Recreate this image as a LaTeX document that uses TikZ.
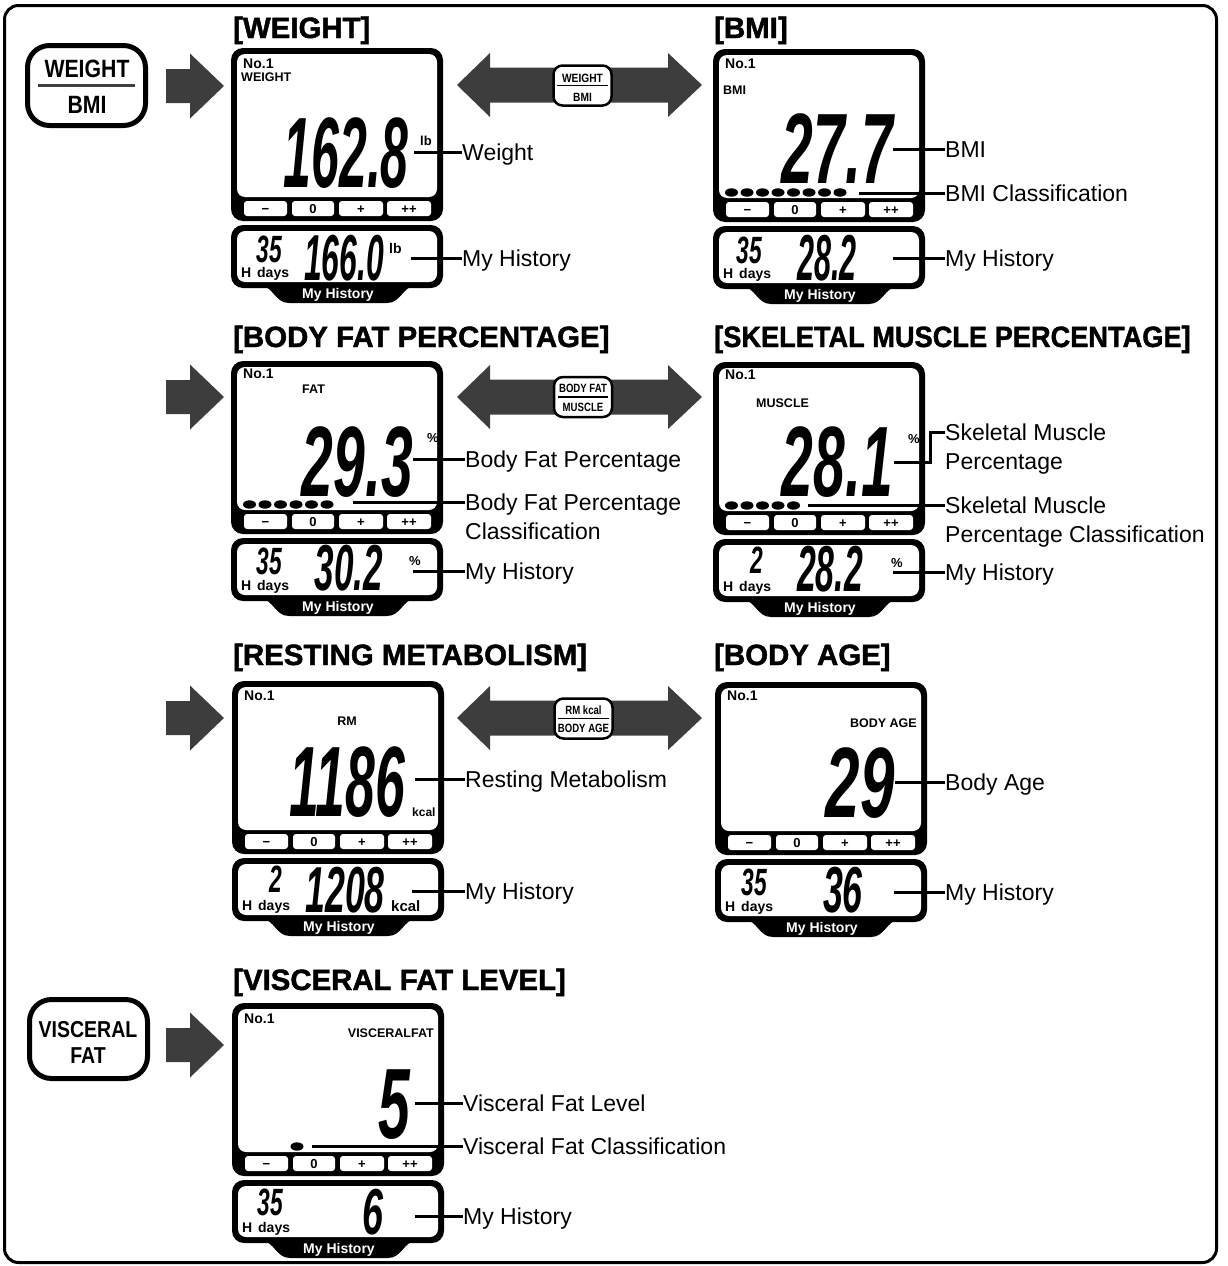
\documentclass[tikz,border=0pt]{standalone}
\usepackage{fontspec}
\usepackage{graphicx}
\setmainfont{Liberation Sans}
\newfontfamily\titlefont{Liberation Sans}[BoldFeatures={FakeBold=1.5}]
\definecolor{agray}{HTML}{3D3D3D}
\newcommand\lcdnum[2][0.52]{\scalebox{#1}[1]{#2}}
\newcommand\lcdframe[1]{%
 \fill[rounded corners=12pt] (0,0) rectangle (212,173);
 \fill[white,rounded corners=8pt] (6,6) rectangle (206,149);
 \foreach \aa/\bb/\lab/\nm in {13/56/−/m, 61/103/0/z, 108/152/+/p, 156/200/++/pp}{
   \fill[white,rounded corners=3pt] (\aa,153) rectangle (\bb,168);
   \node[btxt] (#1-\nm) at ({(\aa+\bb)/2},165) {\lab};}
 \fill[rounded corners=12pt] (0,177) rectangle (212,240);
 \fill[white,rounded corners=8pt] (6,183) rectangle (206,234);
 \fill (30,238) .. controls (42,238) and (44,255) .. (58,255) -- (156,255) .. controls (170,255) and (172,238) .. (184,238) -- cycle;
 \node[tabtxt] (#1-tab) at (107,247) {My History};
 \node[lhd] (#1-hd) at (10,229) {H\ \hspace{2pt}days};
}
\newcommand\clsdots[1]{\foreach \ii in {#1}{\fill ({18.5+(\ii-1)*15.5},143.5) ellipse [x radius=6.5, y radius=4.2];}}
\begin{document}
\begin{tikzpicture}[x=1pt,y=-1pt,
 lbl/.style={font=\fontsize{23}{29}\selectfont, inner sep=0, align=left, anchor=base west},
 lbl2/.style={font=\fontsize{23}{29}\selectfont, inner sep=0, align=left, anchor=north west},
 ttl/.style={font=\titlefont\bfseries\fontsize{29.4}{30}\selectfont, anchor=base west, inner sep=0},
 leader/.style={line width=3pt},
 btxt/.style={font=\bfseries\fontsize{13}{13}\selectfont, inner sep=0, anchor=base},
 tabtxt/.style={font=\bfseries\fontsize{14}{14}\selectfont, text=white, inner sep=0},
 lhd/.style={font=\bfseries\fontsize{14}{14}\selectfont, inner sep=0, anchor=base west},
 lno/.style={font=\bfseries\fontsize{14}{14}\selectfont, inner sep=0, anchor=base west},
 lmode/.style={font=\bfseries\fontsize{12.5}{12.5}\selectfont, inner sep=0, anchor=base west},
 lunit/.style={font=\bfseries\fontsize{13}{13}\selectfont, inner sep=0, anchor=base west},
 dig/.style={font=\bfseries\itshape\fontsize{#1}{#1}\selectfont, inner sep=0, anchor=base east, text depth=0pt},
 midbtn/.style={draw, line width=2.5pt, fill=white, rounded corners=9pt, minimum width=58pt, minimum height=40pt, inner sep=0},
 btnsm/.style={font=\bfseries\fontsize{12}{12}\selectfont, inner sep=0},
 bigbtn/.style={draw, line width=5pt, rounded corners=22pt, minimum width=118pt, minimum height=80pt, inner sep=0},
 bigtxt/.style={font=\bfseries\fontsize{25}{25}\selectfont, inner sep=0},
 pics/rarrow/.style={code={\fill[agray] (0,-17) -- (24,-17) -- (24,-32.5) -- (58,0) -- (24,32.5) -- (24,17) -- (0,17) -- cycle;}},
 pics/darrow/.style={code={\fill[agray] (0,0) -- (33,-32) -- (33,-17.5) -- (211,-17.5) -- (211,-32) -- (245,0) -- (211,32) -- (211,17.5) -- (33,17.5) -- (33,32) -- cycle;}}
]
\useasboundingbox (0,0) rectangle (1227,1266);
\draw[line width=3pt, rounded corners=14pt] (4.5,5.5) rectangle (1216.5,1262.5);

% titles
\node[ttl] (t1) at (233,38) {[WEIGHT]};
\node[ttl] (t2) at (714,38) {[BMI]};
\node[ttl] (t3) at (233,347) {[BODY FAT PERCENTAGE]};
\node[ttl] (t4) at (714,347) {\scalebox{0.925}[1]{[SKELETAL MUSCLE PERCENTAGE]}};
\node[ttl] (t5) at (233,665) {[RESTING METABOLISM]};
\node[ttl] (t6) at (714,665) {[BODY AGE]};
\node[ttl] (t7) at (233,990) {[VISCERAL FAT LEVEL]};

% mode buttons
\node[bigbtn] (wb) at (86.5,85.5) {};
\node[bigtxt] (wb1) at (87,69) {\scalebox{0.85}[1]{WEIGHT}};
\draw[line width=3pt, black!75] ([xshift=13pt]wb.west) -- ([xshift=-13pt]wb.east);
\node[bigtxt] (wb2) at (87,105) {\scalebox{0.85}[1]{BMI}};
\node[bigbtn, minimum height=79pt] (vb) at (88.5,1039) {};
\node[bigtxt, font=\bfseries\fontsize{23}{23}\selectfont] (vb1) at (88,1030) {\scalebox{0.85}[1]{VISCERAL}};
\node[bigtxt, font=\bfseries\fontsize{23}{23}\selectfont] (vb2) at (88,1055.5) {\scalebox{0.85}[1]{FAT}};

% arrows
\pic at (166,86) {rarrow};
\pic at (166,397) {rarrow};
\pic at (166,718) {rarrow};
\pic at (166,1045) {rarrow};
\pic at (457,85) {darrow};
\pic at (457,397) {darrow};
\pic at (457,718) {darrow};

% switch buttons on double arrows
\node[midbtn] (m1) at (582.5,85.5) {};
\node[btnsm] (m1a) at (582.5,78) {\scalebox{0.85}[1]{WEIGHT}};
\node[btnsm] (m1b) at (582.5,97) {\scalebox{0.85}[1]{BMI}};
\draw[line width=1.5pt] ([xshift=5pt]m1.west) -- ([xshift=-5pt]m1.east);
\node[midbtn] (m2) at (583,397) {};
\node[btnsm] (m2a) at (583,388.5) {\scalebox{0.8}[1]{BODY FAT}};
\node[btnsm] (m2b) at (583,407.5) {\scalebox{0.8}[1]{MUSCLE}};
\draw[line width=1.5pt] ([xshift=5pt]m2.west) -- ([xshift=-5pt]m2.east);
\node[midbtn] (m3) at (583.5,718.5) {};
\node[btnsm] (m3a) at (583.5,710) {\scalebox{0.8}[1]{RM kcal}};
\node[btnsm] (m3b) at (583.5,728) {\scalebox{0.8}[1]{BODY AGE}};
\draw[line width=1.5pt] ([xshift=5pt]m3.west) -- ([xshift=-5pt]m3.east);

% WEIGHT panel
\begin{scope}[shift={(231,48)}]
\lcdframe{w}
\node[lno] (w-no) at (12,20) {No.1};
\node[lmode] (w-mode) at (10,33) {WEIGHT};
\node[dig=100] (w-val) at (178,139) {\lcdnum[0.5]{162.8}};
\node[lunit] (w-u) at (189,97) {lb};
\node[dig=38] (w-days) at (51,214) {\lcdnum[0.6]{35}};
\node[dig=65] (w-hist) at (153,232) {\lcdnum[0.49]{166.0}};
\node[lunit, font=\bfseries\fontsize{14}{14}\selectfont] (w-u2) at (158,205) {lb};
\coordinate (w-c1) at (183,104);
\coordinate (w-c3) at (180,210);
\end{scope}

% BMI panel
\begin{scope}[shift={(713,49)}]
\lcdframe{b}
\node[lno] (b-no) at (12,19) {No.1};
\node[lmode] (b-mode) at (10,45) {BMI};
\node[dig=100] (b-val) at (180,134) {\lcdnum[0.57]{27.7}};
\clsdots{1,...,8}
\node[dig=38] (b-days) at (49,214) {\lcdnum[0.6]{35}};
\node[dig=65] (b-hist) at (144,231) {\lcdnum[0.47]{28.2}};
\coordinate (b-c1) at (180,100);
\coordinate (b-c2) at (146,144);
\coordinate (b-c3) at (180,209);
\end{scope}

% BODY FAT panel
\begin{scope}[shift={(231,361)}]
\lcdframe{f}
\node[lno] (f-no) at (12,17) {No.1};
\node[lmode] (f-mode) at (71,32) {FAT};
\node[dig=100] (f-val) at (182,135) {\lcdnum[0.57]{29.3}};
\node[lunit] (f-u) at (196,81) {\%};
\clsdots{1,...,6}
\node[dig=38] (f-days) at (51,213) {\lcdnum[0.6]{35}};
\node[dig=65] (f-hist) at (152,229) {\lcdnum[0.54]{30.2}};
\node[lunit] (f-u2) at (178,204) {\%};
\coordinate (f-c1) at (182,98);
\coordinate (f-c2) at (122,141);
\coordinate (f-c3) at (182,210);
\end{scope}

% MUSCLE panel
\begin{scope}[shift={(713,362)}]
\lcdframe{s}
\node[lno] (s-no) at (12,17) {No.1};
\node[lmode] (s-mode) at (43,45) {MUSCLE};
\node[dig=100] (s-val) at (180,134) {\lcdnum[0.57]{28.1}};
\node[lunit] (s-u) at (195,81) {\%};
\clsdots{1,...,5}
\node[dig=38] (s-days) at (50,211) {\lcdnum[0.6]{2}};
\node[dig=65] (s-hist) at (150,229) {\lcdnum[0.52]{28.2}};
\node[lunit] (s-u2) at (178,205) {\%};
\coordinate (s-c1) at (181,100);
\coordinate (s-k) at (217,70);
\coordinate (s-c2) at (95,143);
\coordinate (s-c3) at (180,210);
\end{scope}

% RM panel
\begin{scope}[shift={(232,681)}]
\lcdframe{r}
\node[lno] (r-no) at (12,19) {No.1};
\node[lmode, anchor=base] (r-mode) at (115,44) {RM};
\node[dig=100] (r-val) at (173,135) {\lcdnum[0.535]{1186}};
\node[lunit, font=\bfseries\fontsize{12}{12}\selectfont] (r-u) at (180,135) {kcal};
\node[dig=38] (r-days) at (50,211) {\lcdnum[0.6]{2}};
\node[dig=65] (r-hist) at (153,231) {\lcdnum[0.55]{1208}};
\node[lunit, font=\bfseries\fontsize{15}{15}\selectfont] (r-u2) at (159,230) {kcal};
\coordinate (r-c1) at (183,98);
\coordinate (r-c3) at (180,210);
\end{scope}

% BODY AGE panel
\begin{scope}[shift={(715,682)}]
\lcdframe{a}
\node[lno] (a-no) at (12,18) {No.1};
\node[lmode, anchor=base east] (a-mode) at (202,45) {BODY AGE};
\node[dig=100] (a-val) at (180,135) {\lcdnum[0.62]{29}};
\node[dig=38] (a-days) at (52,213) {\lcdnum[0.6]{35}};
\node[dig=65] (a-hist) at (148,230) {\lcdnum[0.55]{36}};
\coordinate (a-c1) at (180,100);
\coordinate (a-c3) at (179,210);
\end{scope}

% VISCERAL panel
\begin{scope}[shift={(232,1003)}]
\lcdframe{v}
\node[lno] (v-no) at (12,20) {No.1};
\node[lmode, anchor=base east] (v-mode) at (202,34) {VISCERALFAT};
\node[dig=100] (v-val) at (178,135) {\lcdnum[0.57]{5}};
\clsdots{4}
\node[dig=38] (v-days) at (51,212) {\lcdnum[0.6]{35}};
\node[dig=65] (v-hist) at (152,231) {\lcdnum[0.58]{6}};
\coordinate (v-c1) at (183,100);
\coordinate (v-c2) at (80,143);
\coordinate (v-c3) at (183,213);
\end{scope}

% labels
\node[lbl] (L-w1) at (462,160.2) {Weight};
\node[lbl] (L-w3) at (462,266.2) {My History};
\node[lbl] (L-b1) at (945,157.2) {BMI};
\node[lbl] (L-b2) at (945,201.2) {BMI Classification};
\node[lbl] (L-b3) at (945,266.2) {My History};
\node[lbl] (L-f1) at (465,467.2) {Body Fat Percentage};
\node[lbl2] (L-f2) at (465,493.4) {Body Fat Percentage\\Classification};
\node[lbl] (L-f3) at (465,579.2) {My History};
\node[lbl2] (L-s1) at (945,423.4) {Skeletal Muscle\\Percentage};
\node[lbl2] (L-s2) at (945,496.4) {Skeletal Muscle\\Percentage Classification};
\node[lbl] (L-s3) at (945,580.2) {My History};
\node[lbl] (L-r1) at (465,787.2) {Resting Metabolism};
\node[lbl] (L-r3) at (465,899.2) {My History};
\node[lbl] (L-a1) at (945,790.2) {Body Age};
\node[lbl] (L-a3) at (945,900.2) {My History};
\node[lbl] (L-v1) at (463,1111.2) {Visceral Fat Level};
\node[lbl] (L-v2) at (463,1154.2) {Visceral Fat Classification};
\node[lbl] (L-v3) at (463,1224.2) {My History};

% leaders
\draw[leader] (w-c1) -- (w-c1 -| L-w1.west);
\draw[leader] (w-c3) -- (w-c3 -| L-w3.west);
\draw[leader] (b-c1) -- (b-c1 -| L-b1.west);
\draw[leader] (b-c2) -- (b-c2 -| L-b2.west);
\draw[leader] (b-c3) -- (b-c3 -| L-b3.west);
\draw[leader] (f-c1) -- (f-c1 -| L-f1.west);
\draw[leader] (f-c2) -- (f-c2 -| L-f2.west);
\draw[leader] (f-c3) -- (f-c3 -| L-f3.west);
\draw[leader] (s-c1) -| (s-k) -- (s-k -| L-s1.west);
\draw[leader] (s-c2) -- (s-c2 -| L-s2.west);
\draw[leader] (s-c3) -- (s-c3 -| L-s3.west);
\draw[leader] (r-c1) -- (r-c1 -| L-r1.west);
\draw[leader] (r-c3) -- (r-c3 -| L-r3.west);
\draw[leader] (a-c1) -- (a-c1 -| L-a1.west);
\draw[leader] (a-c3) -- (a-c3 -| L-a3.west);
\draw[leader] (v-c1) -- (v-c1 -| L-v1.west);
\draw[leader] (v-c2) -- (v-c2 -| L-v2.west);
\draw[leader] (v-c3) -- (v-c3 -| L-v3.west);
\end{tikzpicture}
\end{document}
